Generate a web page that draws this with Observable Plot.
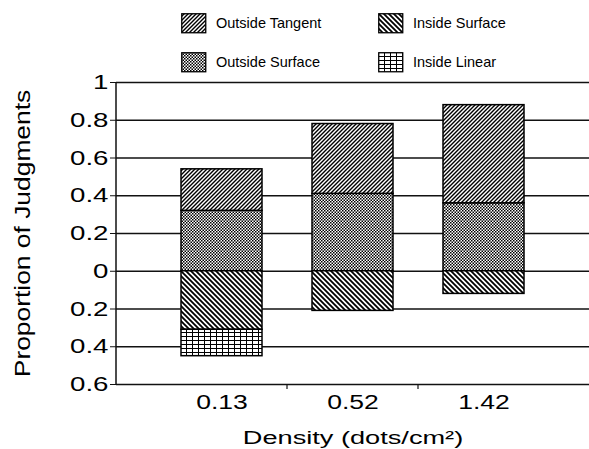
<!DOCTYPE html>
<html><head><meta charset="utf-8">
<script src="https://cdn.jsdelivr.net/npm/d3@7"></script>
<script src="https://cdn.jsdelivr.net/npm/@observablehq/plot@0.6"></script>
<style>
body{margin:0;background:#fff;}
#wrap{position:relative;width:589px;height:449px;font-family:"Liberation Sans",Arial,Helvetica,sans-serif;}
#legend{position:absolute;left:0;top:0;width:589px;height:80px;}
.item{position:absolute;height:20px;}
.item svg{position:absolute;left:0;top:0;}
.item span{position:absolute;left:35px;top:0px;font-size:14.5px;line-height:20px;white-space:nowrap;color:#000;}
</style></head>
<body>
<svg width="0" height="0" style="position:absolute">
<defs>
<pattern id="pat-ot" patternUnits="userSpaceOnUse" width="4" height="4">
 <rect width="4" height="4" fill="white"/>
 <path d="M-1,1 L1,-1 M0,4 L4,0 M3,5 L5,3" stroke="black" stroke-width="1.4"/>
</pattern>
<pattern id="pat-os" patternUnits="userSpaceOnUse" width="3" height="3">
 <rect width="3" height="3" fill="white"/>
 <rect x="0" y="0" width="1.5" height="1.5" fill="black"/>
 <rect x="1.5" y="1.5" width="1.5" height="1.5" fill="black"/>
</pattern>
<pattern id="pat-is" patternUnits="userSpaceOnUse" width="5" height="5">
 <rect width="5" height="5" fill="white"/>
 <path d="M0,0 L5,5 M-1,4 L1,6 M4,-1 L6,1" stroke="black" stroke-width="1.8"/>
</pattern>
<pattern id="pat-il" patternUnits="userSpaceOnUse" width="6" height="4">
 <rect width="6" height="4" fill="white"/>
 <path d="M0.5,0 V4 M0,0.5 H6" stroke="black" stroke-width="1"/>
</pattern>
</defs>
</svg>
<div id="wrap"><div id="legend"></div></div>
<script>
// ---- data ----
const densities = ["0.13", "0.52", "1.42"];
const series = ["Outside Surface", "Outside Tangent", "Inside Surface", "Inside Linear"];
const outsideSurface = [0.32, 0.41, 0.36];
const outsideTangent = [0.22, 0.37, 0.52];
const insideSurface = [0.31, 0.21, 0.12];
const insideLinear = [0.14, 0.00, 0.00];
const yTicks = [1, 0.8, 0.6, 0.4, 0.2, 0, -0.2, -0.4, -0.6];
const legendOrder = ["Outside Tangent", "Inside Surface", "Outside Surface", "Inside Linear"];
const yTitle = "Proportion of Judgments";
const xTitle = "Density (dots/cm²)";
const patterns = {"Outside Surface": "url(#pat-os)", "Outside Tangent": "url(#pat-ot)", "Inside Surface": "url(#pat-is)", "Inside Linear": "url(#pat-il)"};

const table = [];
densities.forEach((d, i) => {
  table.push({density: d, series: "Outside Surface", value: outsideSurface[i]});
  table.push({density: d, series: "Outside Tangent", value: outsideTangent[i]});
  table.push({density: d, series: "Inside Surface", value: -insideSurface[i]});
  table.push({density: d, series: "Inside Linear", value: -insideLinear[i]});
});
const rows = table.filter(r => r.value !== 0);

const fmt = d => String(Math.abs(+d.toFixed(1)));

function axisLines(index, scales, values, dimensions) {
  const {marginLeft, marginTop, marginBottom, height} = dimensions;
  const g = d3.create("svg:g");
  const yb = height - marginBottom;
  g.append("line").attr("x1", marginLeft).attr("x2", marginLeft)
    .attr("y1", marginTop).attr("y2", yb).attr("stroke", "#111").attr("stroke-width", 1.5);
  const x = scales.x;
  const bw = x.bandwidth ? x.bandwidth() : 0;
  for (let i = 0; i < densities.length - 1; i++) {
    const bx = (x(densities[i]) + bw + x(densities[i + 1])) / 2;
    g.append("line").attr("x1", bx).attr("x2", bx).attr("y1", yb).attr("y2", yb + 5)
      .attr("stroke", "#111").attr("stroke-width", 1.2);
  }
  return g.node();
}

const plot = Plot.plot({
  width: 589, height: 449,
  marginTop: 82, marginBottom: 65, marginLeft: 116, marginRight: 0,
  style: {fontFamily: '"Liberation Sans", Arial, Helvetica, sans-serif', background: "transparent", color: "#000"},
  x: {type: "band", domain: densities, range: [156, 549], paddingInner: 0.38, paddingOuter: 0.19, align: 0.5},
  y: {domain: [-0.6, 1]},
  color: {type: "ordinal", domain: series, range: series.map(s => patterns[s])},
  marks: [
    Plot.ruleY(yTicks, {stroke: "#111", strokeWidth: 1.3}),
    Plot.barY(rows, Plot.stackY({x: "density", y: "value", fill: "series", order: series, stroke: "#000", strokeWidth: 1.5})),
    axisLines,
    Plot.axisY({ticks: yTicks, tickSize: 6, tickPadding: 2, tickFormat: fmt, fontSize: 20.5, label: null, stroke: "#111"}),
    Plot.axisX({tickSize: 0, tickPadding: 11, fontSize: 19.5, label: null}),
    Plot.text([yTitle], {frameAnchor: "left", rotate: -90, dx: -94, fontSize: 22, lineAnchor: "middle", textAnchor: "middle"}),
    Plot.text([xTitle], {frameAnchor: "bottom", dy: 53, fontSize: 19, lineAnchor: "middle", textAnchor: "middle"})
  ]
});
document.getElementById("wrap").prepend(plot);

function stretchWhere(pred, s) {
  d3.select(plot).selectAll("text").filter(function() { return pred(this.textContent); }).each(function() {
    const t = this.getAttribute("transform") || "";
    this.setAttribute("transform", t + ` scale(${s},1)`);
  });
}
const yLabelSet = new Set(yTicks.map(fmt));
stretchWhere(t => yLabelSet.has(t), 1.35);
stretchWhere(t => densities.includes(t), 1.36);
stretchWhere(t => t === yTitle, 1.2);
stretchWhere(t => t === xTitle, 1.43);

// ---- legend ----
const legendPos = {"Outside Tangent": [181, 13], "Inside Surface": [378, 13], "Outside Surface": [181, 52], "Inside Linear": [378, 52]};
const leg = d3.select("#legend");
legendOrder.forEach(s => {
  const [lx, ly] = legendPos[s];
  const it = leg.append("div").attr("class", "item").style("left", lx + "px").style("top", ly + "px");
  const sv = it.append("svg").attr("width", 26).attr("height", 21);
  sv.append("rect").attr("x", 0.75).attr("y", 0.75).attr("width", 24).attr("height", 19)
    .attr("fill", patterns[s]).attr("stroke", "#000").attr("stroke-width", 1.3);
  it.append("span").text(s);
});
</script>
</body></html>
